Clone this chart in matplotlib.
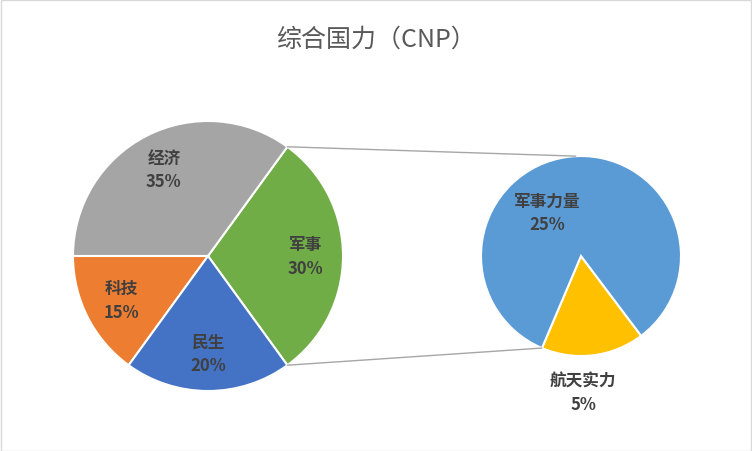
import numpy as np
import matplotlib
matplotlib.use("Agg")
import matplotlib.pyplot as plt
from matplotlib.patches import ConnectionPatch, Rectangle

plt.rcParams['font.family'] = ['Noto Sans CJK SC', 'DejaVu Sans']

main_labels = ['军事', '经济', '科技', '民生']
main_values = [30, 35, 15, 20]
main_colors = ['#70AD47', '#A5A5A5', '#ED7D31', '#4472C4']
sub_labels = ['航天实力', '军事力量']
sub_values = [5, 25]
sub_colors = ['#FFC000', '#5B9BD5']

W, H = 752, 452
fig = plt.figure(figsize=(7.52, 4.52), dpi=100)
fig.patches.append(Rectangle((0.5/W, 0.5/H), 1-1.5/W, 1-1.5/H, transform=fig.transFigure,
                             fill=False, edgecolor='#D9D9D9', lw=1))

def ax_px(cx, cy, r):
    return fig.add_axes([(cx-r)/W, (H-cy-r)/H, 2*r/W, 2*r/H])

ax1 = ax_px(208, 257, 135)
ax2 = ax_px(581, 257, 100)

start1 = -54
ax1.pie(main_values, colors=main_colors, startangle=start1, counterclock=True,
        wedgeprops=dict(edgecolor='white', linewidth=1.5))
ang = start1
for lab, v in zip(main_labels, main_values):
    span = v / sum(main_values) * 360
    mid = np.deg2rad(ang + span/2)
    ax1.text(0.72*np.cos(mid), 0.72*np.sin(mid), f"{lab}\n{v}%", ha='center', va='center',
             fontsize=12, fontweight='bold', color='#404040', linespacing=1.4)
    ang += span
ax1.set_xlim(-1, 1); ax1.set_ylim(-1, 1); ax1.set_aspect('equal'); ax1.axis('off')

start2 = -113
ax2.pie(sub_values, colors=sub_colors, startangle=start2, counterclock=True,
        wedgeprops=dict(edgecolor='white', linewidth=1.5))
ax2.text(np.cos(np.deg2rad(128))*0.55, np.sin(np.deg2rad(128))*0.55,
         f"{sub_labels[1]}\n{sub_values[1]}%", ha='center', va='center', fontsize=12,
         fontweight='bold', color='#404040', linespacing=1.4)
ax2.text(0.02, -1.36, f"{sub_labels[0]}\n{sub_values[0]}%", ha='center', va='center',
         fontsize=12, fontweight='bold', color='#404040', linespacing=1.4)
ax2.set_xlim(-1, 1); ax2.set_ylim(-1, 1); ax2.set_aspect('equal'); ax2.axis('off')

for a1, a2 in [(54, 93), (-54, -113)]:
    p1 = (np.cos(np.deg2rad(a1)), np.sin(np.deg2rad(a1)))
    p2 = (np.cos(np.deg2rad(a2)), np.sin(np.deg2rad(a2)))
    cp = ConnectionPatch(xyA=p1, coordsA=ax1.transData, xyB=p2, coordsB=ax2.transData,
                         color='#A6A6A6', lw=1)
    fig.add_artist(cp)

fig.text(0.5, 1-40/H, '综合国力（CNP）', ha='center', va='center', fontsize=18, color='#595959')
fig.savefig('out.png', dpi=100)
